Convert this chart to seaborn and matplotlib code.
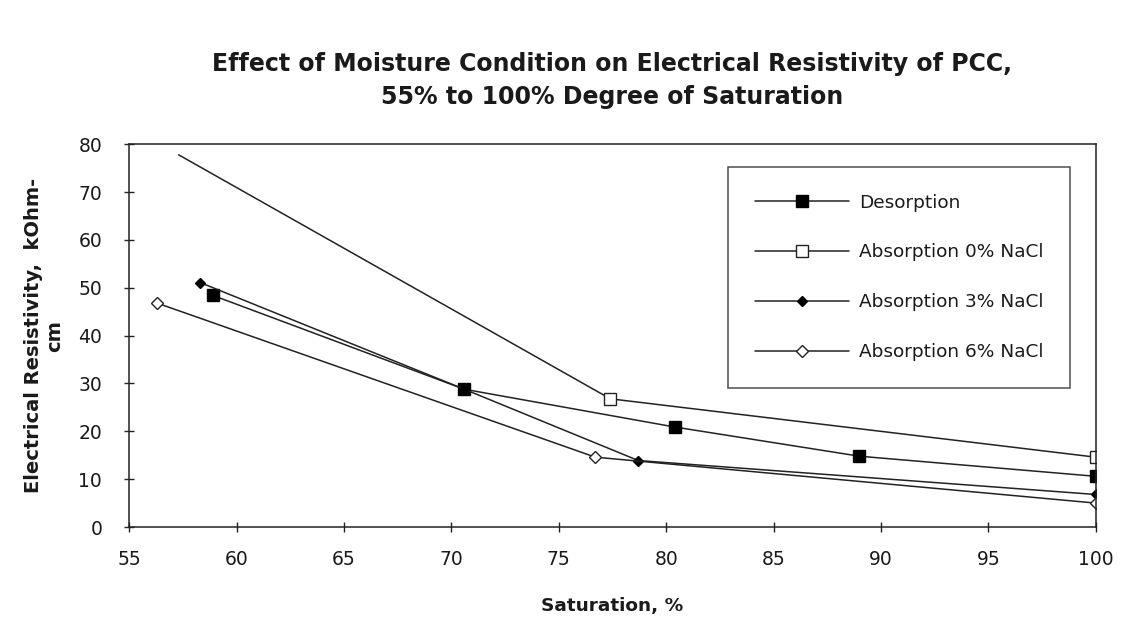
import matplotlib
matplotlib.use("Agg")
import matplotlib.pyplot as plt
import seaborn as sns
import pandas as pd

# ---- data ----
des_x = [58.9, 70.6, 80.4, 89.0, 100.0]
des_y = [48.4, 28.8, 20.9, 14.8, 10.6]

abs0_x = [57.3, 77.4, 100.0]
abs0_y = [77.8, 26.8, 14.6]

abs3_x = [58.3, 70.6, 78.7, 100.0]
abs3_y = [51.1, 28.8, 13.9, 6.8]

abs6_x = [56.3, 76.7, 100.0]
abs6_y = [46.8, 14.6, 5.0]

series_names = ["Desorption", "Absorption 0% NaCl", "Absorption 3% NaCl", "Absorption 6% NaCl"]
x_ticks = [55, 60, 65, 70, 75, 80, 85, 90, 95, 100]
y_ticks = [0, 10, 20, 30, 40, 50, 60, 70, 80]

title_text = "Effect of Moisture Condition on Electrical Resistivity of PCC,\n55% to 100% Degree of Saturation"
x_label = "Saturation, %"
y_label = "Electrical Resistivity,  kOhm-\ncm"

frames = []
for name, xs, ys in zip(series_names,
                        [des_x, abs0_x, abs3_x, abs6_x],
                        [des_y, abs0_y, abs3_y, abs6_y]):
    frames.append(pd.DataFrame({"sat": xs, "res": ys, "series": name}))
df = pd.concat(frames, ignore_index=True)

sns.set_theme(style="white")
plt.rcParams["font.family"] = ["DejaVu Sans"]

fig = plt.figure(figsize=(11.29, 6.19), dpi=100)
ax = fig.add_axes([0.1145, 0.1486, 0.856, 0.6183])

styles = {
    "Desorption": dict(marker="s", ms=8.0, mfc="black", mec="black"),
    "Absorption 0% NaCl": dict(marker="s", ms=8.5, mfc="white", mec="#222222", markevery=[1, 2]),
    "Absorption 3% NaCl": dict(marker="D", ms=4.8, mfc="black", mec="black"),
    "Absorption 6% NaCl": dict(marker="D", ms=5.8, mfc="white", mec="#222222"),
}

for name in series_names:
    sub = df[df["series"] == name]
    st = styles[name]
    sns.lineplot(data=sub, x="sat", y="res", ax=ax, color="#222222", linewidth=1.1,
                 sort=False, estimator=None, label=name, marker=st["marker"],
                 markersize=st["ms"], markerfacecolor=st["mfc"], markeredgecolor=st["mec"],
                 markeredgewidth=1.0, markevery=st.get("markevery", None))

ax.set_xlim(55, 100)
ax.set_ylim(0, 80)
ax.set_xticks(x_ticks)
ax.set_yticks(y_ticks)
ax.tick_params(axis="both", which="major", direction="inout", length=7, width=1,
               color="#222222", labelsize=13.5, labelcolor="#1a1a1a", bottom=True, left=True)
ax.tick_params(axis="x", pad=13)
ax.tick_params(axis="y", pad=16)
for sp in ax.spines.values():
    sp.set_visible(True)
    sp.set_color("#222222")
    sp.set_linewidth(1.1)

ax.set_xlabel(x_label, fontsize=13.3, fontweight="bold", color="#1a1a1a", labelpad=20)
ax.set_ylabel(y_label, fontsize=14, fontweight="bold", color="#1a1a1a", labelpad=10,
              multialignment="center", linespacing=1.15)

fig.text(0.542, 0.870, title_text, ha="center", va="center", fontsize=17,
         fontweight="bold", color="#1a1a1a", linespacing=1.5)

leg = ax.legend(loc="upper left", bbox_to_anchor=(0.6195, 0.941), borderaxespad=0,
                fontsize=13.3, frameon=True, fancybox=False, shadow=False,
                handlelength=5.1, handletextpad=0.55, labelspacing=1.72,
                borderpad=1.45, edgecolor="#222222")
leg.get_frame().set_linewidth(1.1)
for t in leg.get_texts():
    t.set_color("#1a1a1a")

fig.savefig("out.png", dpi=100, facecolor="white")
